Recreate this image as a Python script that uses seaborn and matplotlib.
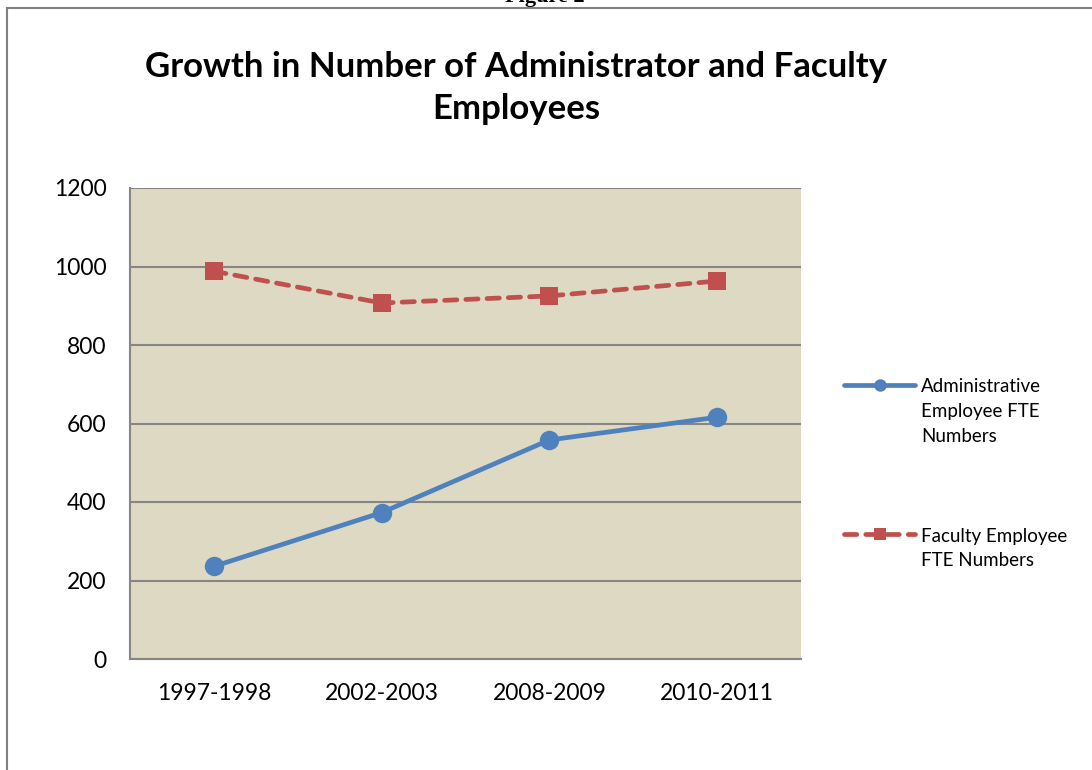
#!/usr/bin/env python3
"""Line chart: growth in administrator vs faculty FTE employees."""

import matplotlib

matplotlib.use("Agg")
import matplotlib.pyplot as plt
import pandas as pd
import seaborn as sns
from matplotlib.patches import Rectangle

PERIODS = ["1997-1998", "2002-2003", "2008-2009", "2010-2011"]
ADMIN_FTE = [236, 373, 558, 616]
FACULTY_FTE = [988, 907, 925, 963]
SERIES = ["Administrative Employee FTE Numbers", "Faculty Employee FTE Numbers"]
LEGEND_LABELS = ["Administrative\nEmployee FTE\nNumbers", "Faculty Employee\nFTE Numbers"]
Y_TICKS = [0, 200, 400, 600, 800, 1000, 1200]

BLUE = "#4F81BD"
RED = "#C0504D"
PLOT_BG = "#DDD9C3"
GRID = "#868686"
FONT = ["Lato", "DejaVu Sans"]


def build_frame() -> pd.DataFrame:
    rows = []
    for name, values in zip(SERIES, [ADMIN_FTE, FACULTY_FTE]):
        for period, value in zip(PERIODS, values):
            rows.append({"Period": period, "Series": name, "FTE": value})
    return pd.DataFrame(rows)


def main() -> None:
    sns.set_theme(style="white")
    plt.rcParams["font.family"] = FONT
    plt.rcParams["text.color"] = "black"

    df = build_frame()
    fig = plt.figure(figsize=(10.92, 7.7), dpi=100)
    ax = fig.add_axes([130 / 1092, 111 / 770, 671 / 1092, 471 / 770])
    ax.set_facecolor(PLOT_BG)

    sns.lineplot(
        data=df,
        x="Period",
        y="FTE",
        hue="Series",
        style="Series",
        hue_order=SERIES,
        style_order=SERIES,
        palette=[BLUE, RED],
        markers={SERIES[0]: "o", SERIES[1]: "s"},
        dashes={SERIES[0]: "", SERIES[1]: (2.6, 1.9)},
        linewidth=3.4,
        markersize=14,
        markeredgewidth=0,
        sort=False,
        legend=False,
        ax=ax,
        zorder=3,
    )
    for line in ax.lines:
        line.set_dash_capstyle("round")
        line.set_solid_capstyle("round")
    ax.lines[1].set_markersize(13)

    ax.set_xlim(-0.5, len(PERIODS) - 0.5)
    ax.set_ylim(0, 1200)
    ax.set_yticks(Y_TICKS)
    ax.yaxis.grid(True, color=GRID, linewidth=1.5)
    ax.set_axisbelow(True)
    ax.set_xlabel("")
    ax.set_ylabel("")
    ax.tick_params(axis="y", length=0, pad=17, labelsize=16.5, labelcolor="black")
    ax.tick_params(axis="x", length=0, pad=17, labelsize=16.5, labelcolor="black")
    for side in ["top", "right"]:
        ax.spines[side].set_visible(False)
    for side in ["left", "bottom"]:
        ax.spines[side].set_color(GRID)
        ax.spines[side].set_linewidth(1.5)

    leg = fig.legend(
        ax.lines[:2],
        LEGEND_LABELS,
        loc="upper left",
        bbox_to_anchor=(835 / 1092, 1 - 369 / 770),
        frameon=False,
        fontsize=13.5,
        handlelength=3.75,
        handletextpad=0.35,
        labelspacing=4.42,
        borderpad=0,
    )
    for text in leg.get_texts():
        text.set_linespacing(1.55)
    for h in leg.legend_handles:
        h.set_markersize(9)
    # put each legend key beside the first line of its label, as Excel does
    for column in leg._legend_handle_box.get_children():
        for row in column.get_children():
            row.align = "top"

    fig.text(
        516 / 1092,
        1 - 88 / 770,
        "Growth in Number of Administrator and Faculty\nEmployees",
        ha="center",
        va="center",
        fontsize=25,
        fontweight="bold",
        linespacing=1.42,
    )
    fig.text(
        545 / 1092,
        1 - 2 / 770,
        "Figure 2",
        ha="center",
        va="baseline",
        fontsize=16,
        fontweight="bold",
        family=["Liberation Serif", "DejaVu Serif"],
    )
    fig.add_artist(
        Rectangle(
            (7 / 1092, -0.1),
            1.2,
            0.1 + 1 - 8 / 770,
            transform=fig.transFigure,
            fill=False,
            edgecolor="#808080",
            linewidth=1.5,
            clip_on=False,
        )
    )

    fig.savefig("out.png", dpi=100)
    plt.close(fig)


if __name__ == "__main__":
    main()
